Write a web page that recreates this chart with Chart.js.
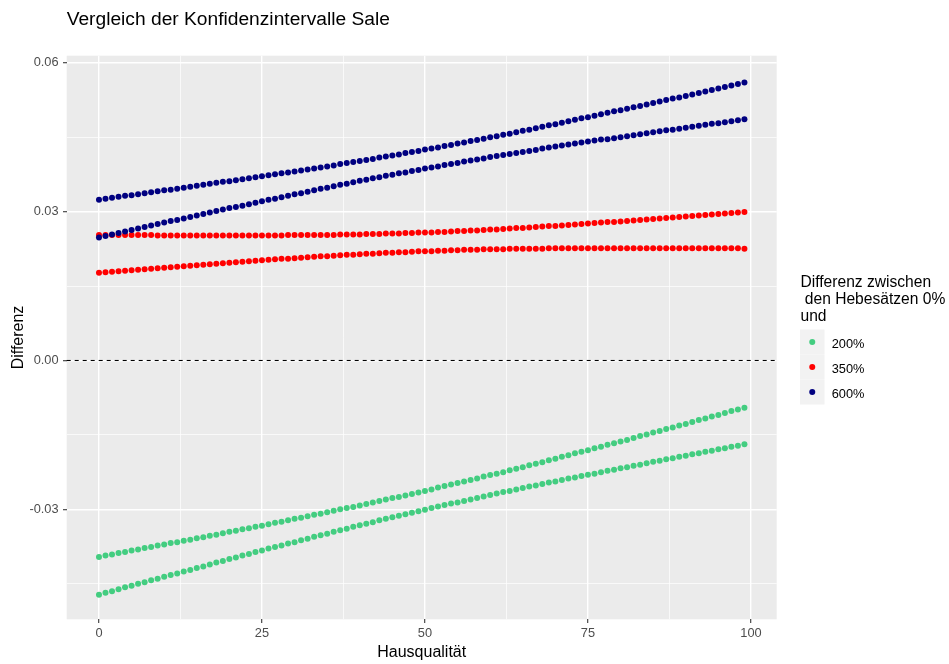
<!DOCTYPE html>
<html>
<head>
<meta charset="utf-8">
<script src="https://cdn.jsdelivr.net/npm/chart.js@4.4.1/dist/chart.umd.min.js"></script>
<style>
html,body{margin:0;padding:0;background:#ffffff;}
#wrap{width:949px;height:664px;position:relative;}
canvas{display:block;}
</style>
</head>
<body>
<div id="wrap"><canvas id="c" width="949" height="664"></canvas></div>
<script>
// ---------- texts ----------
const chartTitle = "Vergleich der Konfidenzintervalle Sale";
const xAxisTitle = "Hausqualität";
const yAxisTitle = "Differenz";
const legendTitle = ["Differenz zwischen", " den Hebesätzen 0%", "und"];
const seriesNames = ["200%", "350%", "600%"];
const seriesColors = ["#43CD80", "#FF0000", "#000080"];

// ---------- categories (x values) ----------
const hausqualitaet = [0,1,2,3,4,5,6,7,8,9,10,11,12,13,14,15,16,17,18,19,20,21,22,23,24,25,26,27,28,29,30,31,32,33,34,35,36,37,38,39,40,41,42,43,44,45,46,47,48,49,50,51,52,53,54,55,56,57,58,59,60,61,62,63,64,65,66,67,68,69,70,71,72,73,74,75,76,77,78,79,80,81,82,83,84,85,86,87,88,89,90,91,92,93,94,95,96,97,98,99];

// ---------- series values ----------
const upper200 = [-0.0396,-0.0393,-0.0391,-0.0388,-0.0386,-0.0383,-0.0381,-0.0378,-0.0376,-0.0373,
-0.0371,-0.0368,-0.0366,-0.0363,-0.0361,-0.0358,-0.0356,-0.0353,-0.0351,-0.0348,
-0.0345,-0.0343,-0.0340,-0.0338,-0.0335,-0.0333,-0.0330,-0.0327,-0.0325,-0.0322,
-0.0319,-0.0317,-0.0314,-0.0311,-0.0309,-0.0306,-0.0303,-0.0300,-0.0297,-0.0295,
-0.0292,-0.0289,-0.0286,-0.0283,-0.0280,-0.0277,-0.0275,-0.0272,-0.0269,-0.0266,
-0.0263,-0.0260,-0.0256,-0.0253,-0.0250,-0.0247,-0.0244,-0.0241,-0.0238,-0.0234,
-0.0231,-0.0228,-0.0225,-0.0221,-0.0218,-0.0215,-0.0211,-0.0208,-0.0205,-0.0201,
-0.0198,-0.0194,-0.0191,-0.0187,-0.0184,-0.0181,-0.0177,-0.0174,-0.0170,-0.0167,
-0.0163,-0.0160,-0.0156,-0.0152,-0.0149,-0.0145,-0.0142,-0.0138,-0.0135,-0.0131,
-0.0128,-0.0124,-0.0120,-0.0117,-0.0113,-0.0110,-0.0106,-0.0102,-0.0099,-0.0095];
const lower200 = [-0.0472,-0.0468,-0.0465,-0.0461,-0.0457,-0.0454,-0.0450,-0.0447,-0.0443,-0.0440,
-0.0436,-0.0432,-0.0429,-0.0425,-0.0422,-0.0418,-0.0415,-0.0411,-0.0407,-0.0404,
-0.0400,-0.0397,-0.0393,-0.0390,-0.0386,-0.0383,-0.0379,-0.0376,-0.0373,-0.0369,
-0.0366,-0.0362,-0.0359,-0.0355,-0.0352,-0.0349,-0.0345,-0.0342,-0.0339,-0.0335,
-0.0332,-0.0329,-0.0326,-0.0322,-0.0319,-0.0316,-0.0313,-0.0310,-0.0307,-0.0304,
-0.0301,-0.0297,-0.0294,-0.0291,-0.0288,-0.0286,-0.0283,-0.0280,-0.0277,-0.0274,
-0.0271,-0.0268,-0.0265,-0.0263,-0.0260,-0.0257,-0.0254,-0.0252,-0.0249,-0.0246,
-0.0244,-0.0241,-0.0238,-0.0236,-0.0233,-0.0230,-0.0228,-0.0225,-0.0222,-0.0220,
-0.0217,-0.0215,-0.0212,-0.0210,-0.0207,-0.0204,-0.0202,-0.0199,-0.0197,-0.0194,
-0.0192,-0.0189,-0.0187,-0.0184,-0.0182,-0.0179,-0.0177,-0.0174,-0.0172,-0.0169];
const upper350 = [0.0253,0.0253,0.0253,0.0253,0.0253,0.0253,0.0253,0.0253,0.0253,0.0252,
0.0252,0.0252,0.0252,0.0252,0.0252,0.0252,0.0252,0.0252,0.0252,0.0252,
0.0252,0.0252,0.0252,0.0252,0.0252,0.0252,0.0252,0.0252,0.0252,0.0253,
0.0253,0.0253,0.0253,0.0253,0.0253,0.0253,0.0253,0.0254,0.0254,0.0254,
0.0254,0.0255,0.0255,0.0255,0.0256,0.0256,0.0256,0.0257,0.0257,0.0258,
0.0258,0.0258,0.0259,0.0259,0.0260,0.0261,0.0261,0.0262,0.0262,0.0263,
0.0264,0.0264,0.0265,0.0266,0.0267,0.0267,0.0268,0.0269,0.0270,0.0271,
0.0271,0.0272,0.0273,0.0274,0.0275,0.0276,0.0277,0.0278,0.0279,0.0279,
0.0280,0.0281,0.0282,0.0283,0.0284,0.0285,0.0286,0.0287,0.0288,0.0289,
0.0290,0.0291,0.0292,0.0293,0.0294,0.0295,0.0296,0.0297,0.0298,0.0299];
const lower350 = [0.0177,0.0178,0.0179,0.0180,0.0181,0.0182,0.0183,0.0184,0.0185,0.0186,
0.0187,0.0188,0.0189,0.0190,0.0191,0.0192,0.0193,0.0194,0.0195,0.0196,
0.0197,0.0198,0.0199,0.0200,0.0201,0.0202,0.0203,0.0204,0.0205,0.0205,
0.0206,0.0207,0.0208,0.0209,0.0210,0.0210,0.0211,0.0212,0.0213,0.0213,
0.0214,0.0215,0.0215,0.0216,0.0217,0.0217,0.0218,0.0218,0.0219,0.0220,
0.0220,0.0220,0.0221,0.0221,0.0222,0.0222,0.0223,0.0223,0.0223,0.0224,
0.0224,0.0224,0.0224,0.0225,0.0225,0.0225,0.0225,0.0225,0.0225,0.0226,
0.0226,0.0226,0.0226,0.0226,0.0226,0.0226,0.0226,0.0226,0.0226,0.0226,
0.0226,0.0226,0.0226,0.0226,0.0226,0.0226,0.0226,0.0226,0.0226,0.0226,
0.0226,0.0226,0.0226,0.0226,0.0226,0.0226,0.0226,0.0226,0.0226,0.0225];
const upper600 = [0.0324,0.0326,0.0328,0.0330,0.0332,0.0333,0.0335,0.0337,0.0339,0.0341,
0.0343,0.0344,0.0346,0.0348,0.0350,0.0352,0.0354,0.0356,0.0358,0.0360,
0.0361,0.0363,0.0365,0.0367,0.0369,0.0371,0.0373,0.0375,0.0377,0.0379,
0.0381,0.0383,0.0385,0.0387,0.0389,0.0391,0.0393,0.0396,0.0398,0.0400,
0.0402,0.0404,0.0406,0.0409,0.0411,0.0413,0.0415,0.0418,0.0420,0.0422,
0.0425,0.0427,0.0429,0.0432,0.0434,0.0437,0.0439,0.0442,0.0444,0.0447,
0.0450,0.0452,0.0455,0.0457,0.0460,0.0463,0.0465,0.0468,0.0471,0.0474,
0.0476,0.0479,0.0482,0.0485,0.0488,0.0490,0.0493,0.0496,0.0499,0.0502,
0.0504,0.0507,0.0510,0.0513,0.0516,0.0519,0.0522,0.0525,0.0528,0.0530,
0.0533,0.0536,0.0539,0.0542,0.0545,0.0548,0.0551,0.0554,0.0557,0.0560];
const lower600 = [0.0248,0.0251,0.0254,0.0257,0.0260,0.0263,0.0266,0.0269,0.0272,0.0275,
0.0278,0.0281,0.0283,0.0286,0.0289,0.0292,0.0295,0.0298,0.0301,0.0304,
0.0307,0.0309,0.0312,0.0315,0.0318,0.0321,0.0324,0.0326,0.0329,0.0332,
0.0335,0.0337,0.0340,0.0343,0.0346,0.0348,0.0351,0.0354,0.0356,0.0359,
0.0362,0.0364,0.0367,0.0369,0.0372,0.0374,0.0377,0.0379,0.0382,0.0384,
0.0387,0.0389,0.0391,0.0394,0.0396,0.0398,0.0401,0.0403,0.0405,0.0407,
0.0410,0.0412,0.0414,0.0416,0.0418,0.0420,0.0422,0.0424,0.0427,0.0429,
0.0431,0.0433,0.0435,0.0437,0.0439,0.0441,0.0443,0.0445,0.0446,0.0448,
0.0450,0.0452,0.0454,0.0456,0.0458,0.0460,0.0462,0.0464,0.0465,0.0467,
0.0469,0.0471,0.0473,0.0475,0.0477,0.0478,0.0480,0.0482,0.0484,0.0486];

// ---------- ticks ----------
const xMajorTicks = [0, 25, 50, 75, 100];
const xMinorTicks = [12.5, 37.5, 62.5, 87.5];
const yMajorTicks = [-0.03, 0, 0.03, 0.06];
const yMinorTicks = [-0.045, -0.015, 0.015, 0.045];
const xLimits = [-4.95, 103.95];
const yLimits = [-0.05215, 0.06141];
const referenceLineY = 0;

// ---------- build datasets ----------
const FONT = '"Liberation Sans", Arial, sans-serif';
const seriesData = [
  {name: seriesNames[0], color: seriesColors[0], bounds: [upper200, lower200]},
  {name: seriesNames[1], color: seriesColors[1], bounds: [upper350, lower350]},
  {name: seriesNames[2], color: seriesColors[2], bounds: [upper600, lower600]}
];
const POINT_R = 3.0;
const datasets = [];
// later series first so that they are painted on top (Chart.js paints index 0 last)
for (let s = seriesData.length - 1; s >= 0; s--) {
  const sd = seriesData[s];
  sd.bounds.forEach((arr) => {
    datasets.push({
      label: sd.name,
      data: hausqualitaet.map((x, i) => ({x: x, y: arr[i]})),
      backgroundColor: sd.color,
      borderColor: sd.color,
      pointBackgroundColor: sd.color,
      pointBorderWidth: 0,
      pointRadius: POINT_R,
      pointHoverRadius: POINT_R,
      showLine: false
    });
  });
}

const isIn = (arr, v) => arr.some(a => Math.abs(a - v) < 1e-9);

const backgroundPlugin = {
  id: 'panelBg',
  beforeDraw(chart) {
    const {ctx, chartArea: a} = chart;
    ctx.save();
    ctx.fillStyle = '#FFFFFF';
    ctx.fillRect(0, 0, chart.width, chart.height);
    ctx.fillStyle = '#EBEBEB';
    ctx.fillRect(a.left, a.top, a.right - a.left, a.bottom - a.top);
    ctx.restore();
  }
};

const refLinePlugin = {
  id: 'refLine',
  beforeDatasetsDraw(chart) {
    const {ctx, chartArea: a} = chart;
    const y = chart.scales.y.getPixelForValue(referenceLineY);
    ctx.save();
    ctx.beginPath();
    ctx.setLineDash([4, 4]);
    ctx.lineWidth = 1.07;
    ctx.strokeStyle = '#000000';
    ctx.moveTo(a.left, y);
    ctx.lineTo(a.right, y);
    ctx.stroke();
    ctx.restore();
  }
};

const titleLegendPlugin = {
  id: 'titleLegend',
  afterDraw(chart) {
    const ctx = chart.ctx;
    ctx.save();
    // title
    ctx.fillStyle = '#000000';
    ctx.textAlign = 'left';
    ctx.textBaseline = 'alphabetic';
    ctx.font = '19.2px ' + FONT;
    ctx.fillText(chartTitle, chart.chartArea.left, 24.5);
    // legend title
    ctx.font = '15.6px ' + FONT;
    const lx = 800.5;
    legendTitle.forEach((line, i) => {
      ctx.fillText(line, lx, 286.8 + i * 17);
    });
    // legend keys
    const keyTop = 329.5, keyH = 25, keyW = 24.5, keyX = 800;
    seriesData.forEach((sd, i) => {
      ctx.fillStyle = '#F2F2F2';
      ctx.fillRect(keyX, keyTop + i * keyH, keyW, keyH);
    });
    seriesData.forEach((sd, i) => {
      const cy = keyTop + i * keyH + keyH / 2;
      ctx.beginPath();
      ctx.fillStyle = sd.color;
      ctx.arc(keyX + keyW / 2, cy, POINT_R, 0, Math.PI * 2);
      ctx.fill();
      ctx.fillStyle = '#000000';
      ctx.font = '12.8px ' + FONT;
      ctx.fillText(sd.name, 831.7, cy + 5.6);
    });
    ctx.restore();
  }
};

function gridWidth(majors) {
  return ctx => (ctx.tick && isIn(majors, ctx.tick.value)) ? 1.42 : 0.71;
}
function tickColor(majors) {
  return ctx => (ctx.tick && isIn(majors, ctx.tick.value)) ? '#333333' : 'rgba(0,0,0,0)';
}

new Chart(document.getElementById('c'), {
  type: 'scatter',
  data: {datasets: datasets},
  options: {
    responsive: false,
    animation: false,
    devicePixelRatio: 1,
    events: [],
    layout: {padding: {left: 0, top: 55.7, right: 172.3, bottom: 0}},
    plugins: {legend: {display: false}, title: {display: false}, tooltip: {enabled: false}},
    scales: {
      x: {
        type: 'linear',
        position: 'bottom',
        min: xLimits[0],
        max: xLimits[1],
        afterBuildTicks: scale => {
          scale.ticks = xMajorTicks.concat(xMinorTicks).sort((a, b) => a - b).map(v => ({value: v}));
        },
        afterFit: scale => { scale.height = 44.7; },
        ticks: {
          autoSkip: false,
          maxRotation: 0,
          padding: 3.2,
          color: '#4D4D4D',
          font: {family: FONT, size: 12.8},
          callback: v => isIn(xMajorTicks, v) ? String(v) : ''
        },
        grid: {
          color: '#FFFFFF',
          lineWidth: gridWidth(xMajorTicks),
          tickColor: tickColor(xMajorTicks),
          tickWidth: 1.07,
          tickLength: 3.7,
          drawTicks: true
        },
        border: {display: false},
        title: {
          display: true,
          text: xAxisTitle,
          color: '#000000',
          font: {family: FONT, size: 16},
          padding: {top: 0, bottom: 2}
        }
      },
      y: {
        type: 'linear',
        position: 'left',
        min: yLimits[0],
        max: yLimits[1],
        afterBuildTicks: scale => {
          scale.ticks = yMajorTicks.concat(yMinorTicks).sort((a, b) => a - b).map(v => ({value: v}));
        },
        afterFit: scale => { scale.width = 66.7; },
        ticks: {
          autoSkip: false,
          padding: 4.4,
          color: '#4D4D4D',
          font: {family: FONT, size: 12.8},
          callback: v => isIn(yMajorTicks, v) ? v.toFixed(2) : ''
        },
        grid: {
          color: '#FFFFFF',
          lineWidth: gridWidth(yMajorTicks),
          tickColor: tickColor(yMajorTicks),
          tickWidth: 1.07,
          tickLength: 3.7,
          drawTicks: true
        },
        border: {display: false},
        title: {
          display: true,
          text: yAxisTitle,
          color: '#000000',
          font: {family: FONT, size: 16},
          padding: {top: 8.5, bottom: 0}
        }
      }
    }
  },
  plugins: [backgroundPlugin, refLinePlugin, titleLegendPlugin]
});
</script>
</body>
</html>
